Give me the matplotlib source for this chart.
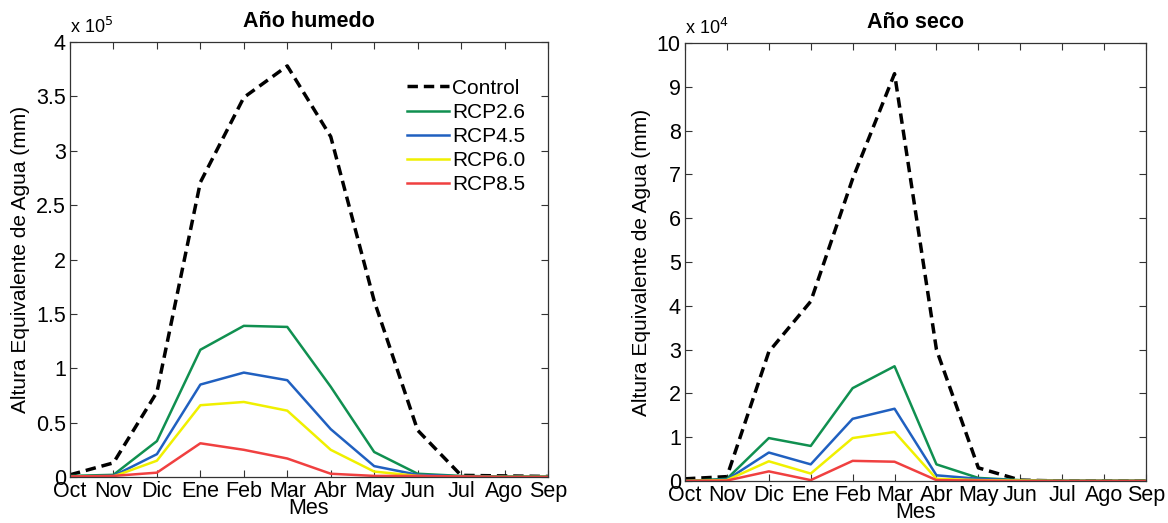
import numpy as np
import matplotlib.pyplot as plt
from matplotlib.ticker import FuncFormatter

plt.rcParams["font.family"] = ["Liberation Sans", "DejaVu Sans"]

MESES = ["Oct", "Nov", "Dic", "Ene", "Feb", "Mar", "Abr", "May", "Jun", "Jul", "Ago", "Sep"]

# año humedo, en unidades de 1e5 mm
control_humedo = [0.02, 0.13, 0.78, 2.71, 3.49, 3.78, 3.13, 1.62, 0.43, 0.015, 0.01, 0.005]
rcp26_humedo   = [0.01, 0.02, 0.33, 1.17, 1.39, 1.38, 0.83, 0.23, 0.03, 0.01, 0.005, 0.005]
rcp45_humedo   = [0.005, 0.01, 0.21, 0.85, 0.96, 0.89, 0.44, 0.10, 0.02, 0.005, 0.0, 0.0]
rcp60_humedo   = [0.0, 0.005, 0.15, 0.66, 0.69, 0.61, 0.25, 0.05, 0.01, 0.0, 0.0, 0.0]
rcp85_humedo   = [0.005, 0.01, 0.04, 0.31, 0.25, 0.17, 0.03, 0.01, 0.01, 0.005, 0.0, 0.0]

# año seco, en unidades de 1e4 mm
control_seco = [0.05, 0.10, 2.95, 4.10, 6.90, 9.30, 3.00, 0.30, 0.02, 0.0, 0.0, 0.0]
rcp26_seco   = [0.0, 0.05, 0.98, 0.80, 2.12, 2.62, 0.38, 0.07, 0.02, 0.01, 0.01, 0.01]
rcp45_seco   = [0.0, 0.03, 0.65, 0.38, 1.42, 1.65, 0.13, 0.05, 0.01, 0.0, 0.0, 0.0]
rcp60_seco   = [0.0, 0.02, 0.45, 0.17, 0.98, 1.12, 0.05, 0.02, 0.01, 0.0, 0.0, 0.0]
rcp85_seco   = [0.0, 0.01, 0.22, 0.02, 0.46, 0.44, 0.02, 0.01, 0.0, 0.0, 0.0, 0.0]

ESCENARIOS = ["RCP2.6", "RCP4.5", "RCP6.0", "RCP8.5"]
COLORES    = ["#109050", "#2060c0", "#f0f000", "#f04040"]

x = np.arange(1, 13)

fig = plt.figure(figsize=(11.68, 5.23), dpi=100)
ax1 = fig.add_axes([70 / 1168, 1 - 477 / 523, 478 / 1168, 435 / 523])
ax2 = fig.add_axes([685 / 1168, 1 - 481 / 523, 461 / 1168, 438 / 523])


def fmt(v, _):
    return f"{v:g}"


def dibujar(ax, control, rcps, titulo, ymax, ystep, exponente):
    ax.plot(x, control, color="black", linestyle=(0, (3.0, 1.7)), lw=2.5, label="Control")
    for serie, nombre, color in zip(rcps, ESCENARIOS, COLORES):
        ax.plot(x, serie, color=color, lw=1.8, label=nombre)
    ax.set_xlim(1, 12)
    ax.set_ylim(0, ymax)
    ax.set_xticks(x)
    ax.set_xticklabels(MESES)
    ax.set_yticks(np.arange(0, ymax + ystep / 2, ystep))
    ax.yaxis.set_major_formatter(FuncFormatter(fmt))
    ax.tick_params(direction="in", top=True, right=True, labelsize=15.5, length=5,
                   width=0.8, color="#333333", pad=3)
    for s in ax.spines.values():
        s.set_linewidth(0.9)
        s.set_color("#333333")
    ax.set_title(titulo, fontsize=15.5, fontweight="bold", pad=11)
    ax.set_xlabel("Mes", fontsize=15.5, labelpad=-3)
    ax.set_ylabel("Altura Equivalente de Agua (mm)", fontsize=15, labelpad=4)
    ax.text(0.0, 1.012, f"x 10$^{{{exponente}}}$", transform=ax.transAxes,
            fontsize=13, ha="left", va="bottom")


dibujar(ax1, control_humedo,
        [rcp26_humedo, rcp45_humedo, rcp60_humedo, rcp85_humedo],
        "Año humedo", 4, 0.5, 5)
dibujar(ax2, control_seco,
        [rcp26_seco, rcp45_seco, rcp60_seco, rcp85_seco],
        "Año seco", 10, 1, 4)

ax1.legend(loc="upper right", bbox_to_anchor=(0.97, 0.935), frameon=False, fontsize=15,
           handlelength=2.0, handletextpad=0.15, labelspacing=0.25, borderaxespad=0)

fig.savefig("out.png", dpi=100)
